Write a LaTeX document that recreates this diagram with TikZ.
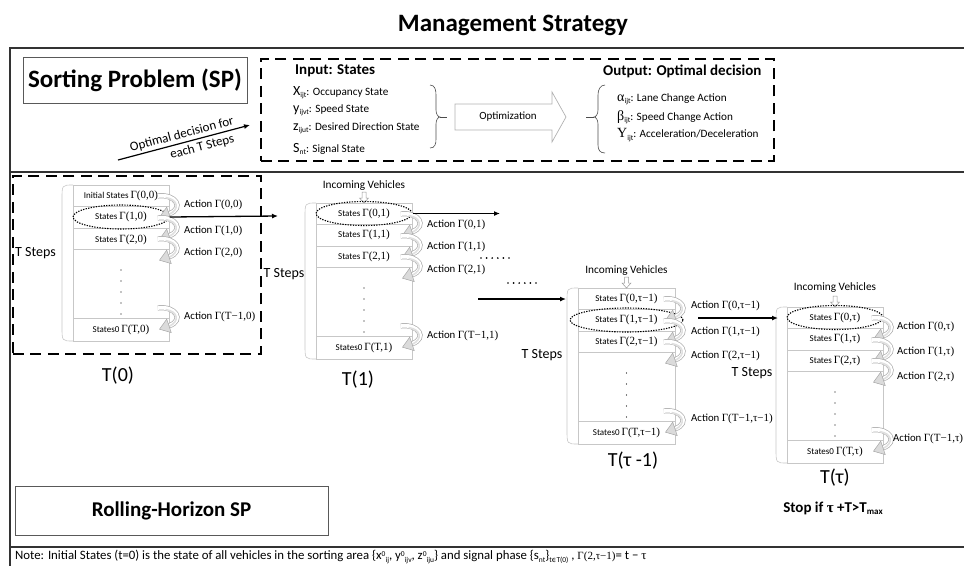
\documentclass[tikz,border=0pt]{standalone}
\usepackage{fontspec}
\setmainfont{Carlito}
\newfontfamily\tms{Liberation Serif}
\newfontfamily\dvs{DejaVu Sans}
\usetikzlibrary{arrows.meta,shapes.geometric}
\newcommand\myfs[1]{\fontsize{#1}{#1}\selectfont}
\newcommand\gam[1]{{\tms\myfs{11}Γ(#1)}}
\newcommand\sbs[1]{\raisebox{-2.2pt}{\myfs{7.5}#1}}
\newcommand\sps[1]{\raisebox{3.5pt}{\myfs{7.5}#1}}
\tikzset{
  carr/.pic={
    \begin{scope}[scale=1.12]
    \draw[line width=5.2pt, black!32] (-10,-9) .. controls (6,-11) and (14,2) .. (0,7);
    \draw[line width=3.8pt, white] (-10,-9) .. controls (6,-11) and (14,2) .. (0,7);
    \draw[line width=1.6pt, black!12] (-3,-7.5) .. controls (8,-6) and (10,3) .. (0,7.5);
    \filldraw[fill=black!14, draw=black!35, line width=0.5pt] (-2,1) -- (2,13) -- (-8.5,10) -- cycle;
    \end{scope}
  },
  inarr/.pic={
    \filldraw[fill=white, draw=black!40, line width=0.5pt] (-2,0) -- (2,0) -- (2,6) -- (4.5,6) -- (0,11) -- (-4.5,6) -- (-2,6) -- cycle;
  }
}
\begin{document}
\begin{tikzpicture}[x=1pt,y=-1pt,
  frm/.style={line width=1.1pt, draw=black!80},
  dbox/.style={draw=black, line width=1.7pt, dash pattern=on 11pt off 6.5pt, inner sep=0pt},
  gbox/.style={draw=black!65, line width=0.8pt, inner sep=0pt},
  stk/.style={draw=black!22, line width=0.6pt},
  ell/.style={ellipse, draw=black, line width=1.1pt, dash pattern=on 1.3pt off 1.3pt, inner sep=0pt},
  stt/.style={inner sep=0pt, font=\myfs{9}},
  actl/.style={anchor=west, inner sep=0pt, font=\myfs{10.8}},
  tsteps/.style={inner sep=0pt, font=\myfs{14}},
  tlab/.style={inner sep=0pt, font=\myfs{20}},
  arr/.style={draw=black, line width=1.3pt, -{Latex[length=6pt,width=5pt]}},
  inc/.style={inner sep=0pt, font=\myfs{11.3}},
  item/.style={anchor=west, inner sep=0pt},
  head/.style={anchor=west, inner sep=0pt, font=\bfseries\myfs{15}},
  brc/.style={draw=black!70, line width=0.6pt}
]
\useasboundingbox (0,0) rectangle (964,566);
% title and frame
\node[font=\bfseries\myfs{25}] (title) at (513,25) {Management Strategy};
\draw[frm] (964,48) -- (10,48) -- (10,566);
\draw[frm] (10,172) -- (964,172);
\draw[frm] (10,547) -- (964,547);
% top section
\node[gbox, minimum width=224pt, minimum height=46pt, font=\bfseries\myfs{25}] (sp) at (135,80) {Sorting Problem (SP)};
\node[dbox, minimum width=513pt, minimum height=102pt, anchor=north west] (ibox) at (260,58) {};
\coordinate (oa) at (118,160);
\coordinate (ob) at (250,125);
\draw[arr, line width=1.2pt] (oa) -- (ob)
  node[midway, sloped, above=2pt, font=\myfs{13}, inner sep=0pt] (odt) {Optimal decision for}
  node[pos=0.62, sloped, below=3pt, font=\myfs{13}, inner sep=0pt] (odb) {each T Steps};
\node[head] (inh) at (295,71) {Input: States};
\node[item] (i1) at (293,93) {{\myfs{14}X}\sbs{ijt}{\myfs{11.2}: Occupancy State}};
\node[item] (i2) at (293,110) {{\myfs{14}y}\sbs{ijvt}{\myfs{11.2}: Speed State}};
\node[item] (i3) at (293,128) {{\myfs{14}z}\sbs{ijut}{\myfs{11.2}: Desired Direction State}};
\node[item] (i4) at (293,149) {{\myfs{14}S}\sbs{nt}{\myfs{11.2}: Signal State}};
\draw[brc] (430,85) .. controls (435,85) and (436,90) .. (436,95) -- (436,110) .. controls (436,114) and (438,117) .. (440,117) .. controls (438,117) and (436,120) .. (436,124) -- (436,139) .. controls (436,144) and (435,148) .. (430,148);
\draw[brc] (440,117) -- (447,117);
\filldraw[fill=white, draw=black!30, line width=0.7pt] (455,104) -- (552,104) -- (552,92) -- (566,117) -- (552,142) -- (552,130) -- (455,130) -- cycle;
\node[font=\myfs{11}, inner sep=0pt] (opt) at (508,117) {Optimization};
\draw[brc] (605,85) .. controls (600,85) and (598,90) .. (598,95) -- (598,110) .. controls (598,114) and (596,117) .. (594,117) .. controls (596,117) and (598,120) .. (598,124) -- (598,145) .. controls (598,150) and (600,153) .. (605,153);
\draw[brc] (586,117) -- (594,117);
\node[head] (outh) at (603,71) {Output: Optimal decision};
\node[item] (o1) at (617,99) {{\tms\myfs{14}α}\sbs{ijt}{\myfs{11.2}: Lane Change Action}};
\node[item] (o2) at (617,117) {{\tms\myfs{14}β}\sbs{ijt}{\myfs{11.2}: Speed Change Action}};
\node[item] (o3) at (617,135) {{\tms\myfs{14}Υ}\sbs{ijt}{\myfs{11.2}: Acceleration/Deceleration}};
% T(0) dashed box
\node[dbox, minimum width=248pt, minimum height=178pt, anchor=north west] (tbox) at (12,175) {};
% ---------- stack 0 ----------
\node[stk, anchor=north west, minimum width=96pt, minimum height=156pt, inner sep=0pt] (k0) at (73,185) {};
\draw[stk] (73,206) -- (169,206) (73,228) -- (169,228) (73,249) -- (169,249) (73,318) -- (169,318);
\draw[stk] (73,185) .. controls (62,185) .. (62,199) -- (62,327) .. controls (62,341) .. (73,341);
\node[stt] (k0r0) at (121,195.5) {Initial States \gam{0,0}};
\node[stt] (k0r1) at (121,217) {States \gam{1,0}};
\node[ell, minimum width=96pt, minimum height=24pt] (e0) at (121,217) {};
\node[stt] (k0r2) at (121,240) {States \gam{2,0}};
\node[stt] (k0r4) at (121,330) {States0 \gam{T,0}};
\foreach \k in {0,...,4} \fill (121,270+11*\k) circle (0.6);
\pic at (169,206) {carr};
\pic at (169,228) {carr};
\pic at (169,249) {carr};
\pic at (169,318) {carr};
\node[actl] (a00) at (184,205) {Action \gam{0,0}};
\node[actl] (a01) at (184,231) {Action \gam{1,0}};
\node[actl] (a02) at (184,253) {Action \gam{2,0}};
\node[actl] (a03) at (184,317) {Action \gam{T−1,0}};
\node[tsteps, anchor=west] (ts0) at (15,253) {T Steps};
\node[tlab] (tl0) at (118,376) {T(0)};
\coordinate (c0) at (278,216);
\draw[arr] (e0.east) -- (c0);
% ---------- stack 1 ----------
\node[stk, anchor=north west, minimum width=96pt, minimum height=156pt, inner sep=0pt] (k1) at (316,203) {};
\draw[stk] (316,224) -- (412,224) (316,246) -- (412,246) (316,267) -- (412,267) (316,336) -- (412,336);
\draw[stk] (316,203) .. controls (305,203) .. (305,217) -- (305,345) .. controls (305,359) .. (316,359);
\node[inc] (in1) at (364,186) {Incoming Vehicles};
\pic at (364,192) {inarr};
\node[stt] (k1r0) at (364,213.5) {States \gam{0,1}};
\node[ell, minimum width=96pt, minimum height=24pt] (e1) at (364,213.5) {};
\node[stt] (k1r1) at (364,235) {States \gam{1,1}};
\node[stt] (k1r2) at (364,256.5) {States \gam{2,1}};
\node[stt] (k1r4) at (364,347.5) {States0 \gam{T,1}};
\foreach \k in {0,...,4} \fill (364,288+11*\k) circle (0.6);
\pic at (412,224) {carr};
\pic at (412,246) {carr};
\pic at (412,267) {carr};
\pic at (412,336) {carr};
\node[actl] (a10) at (427,225) {Action \gam{0,1}};
\node[actl] (a11) at (427,247) {Action \gam{1,1}};
\node[actl] (a12) at (427,270) {Action \gam{2,1}};
\node[actl] (a13) at (427,336) {Action \gam{T−1,1}};
\node[tsteps] (ts1) at (284,274) {T Steps};
\node[tlab] (tl1) at (358,380) {T(1)};
\coordinate (c1) at (500,213.5);
\draw[arr] (e1.east) -- (c1);
\foreach \k in {0,...,5} \fill (481+5.6*\k,258) circle (0.95);
\foreach \k in {0,...,5} \fill (508+5.6*\k,283) circle (0.95);
% ---------- stack 2 (tau-1) ----------
\node[stk, anchor=north west, minimum width=97pt, minimum height=156pt, inner sep=0pt] (k2) at (578,288) {};
\draw[stk] (578,309) -- (675,309) (578,331) -- (675,331) (578,352) -- (675,352) (578,421) -- (675,421);
\draw[stk] (578,288) .. controls (567,288) .. (567,302) -- (567,430) .. controls (567,444) .. (578,444);
\coordinate (b2) at (566,299);
\coordinate (c2in) at (478,299);
\draw[arr] (c2in) -- (b2);
\node[inc] (in2) at (626.5,271) {Incoming Vehicles};
\pic at (626.5,277) {inarr};
\node[stt] (k2r0) at (626.5,298.5) {States \gam{0,τ−1}};
\node[stt] (k2r1) at (626.5,320) {States \gam{1,τ−1}};
\node[ell, minimum width=113pt, minimum height=24pt] (e2) at (626.5,320) {};
\node[stt] (k2r2) at (626.5,341.5) {States \gam{2,τ−1}};
\node[stt] (k2r4) at (626.5,432.5) {States0 \gam{T,τ−1}};
\foreach \k in {0,...,4} \fill (626.5,373+11*\k) circle (0.6);
\pic at (675,309) {carr};
\pic at (675,331) {carr};
\pic at (675,352) {carr};
\pic at (675,421) {carr};
\node[actl] (a20) at (691,306) {Action \gam{0,τ−1}};
\node[actl] (a21) at (691,332) {Action \gam{1,τ−1}};
\node[actl] (a22) at (691,356) {Action \gam{2,τ−1}};
\node[actl] (a23) at (691,419) {Action \gam{T−1,τ−1}};
\node[tsteps] (ts2) at (542,355) {T Steps};
\node[tlab] (tl2) at (633,461) {T(τ -1)};
\coordinate (c2out) at (698,318);
% ---------- stack 3 (tau) ----------
\node[stk, anchor=north west, minimum width=96pt, minimum height=156pt, inner sep=0pt] (k3) at (787,307) {};
\draw[stk] (787,328) -- (883,328) (787,350) -- (883,350) (787,371) -- (883,371) (787,440) -- (883,440);
\draw[stk] (787,307) .. controls (776,307) .. (776,321) -- (776,449) .. controls (776,463) .. (787,463);
\coordinate (b3) at (778,318);
\draw[arr] (c2out) -- (b3);
\node[inc] (in3) at (835,288) {Incoming Vehicles};
\pic at (835,296) {inarr};
\node[stt] (k3r0) at (835,317.5) {States \gam{0,τ}};
\node[ell, minimum width=96pt, minimum height=24pt] (e3) at (835,317.5) {};
\node[stt] (k3r1) at (835,339) {States \gam{1,τ}};
\node[stt] (k3r2) at (835,360.5) {States \gam{2,τ}};
\node[stt] (k3r4) at (835,451.5) {States0 \gam{T,τ}};
\foreach \k in {0,...,4} \fill (835,392+11*\k) circle (0.6);
\pic at (883,328) {carr};
\pic at (883,350) {carr};
\pic at (883,371) {carr};
\pic at (883,440) {carr};
\node[actl] (a30) at (897,327) {Action \gam{0,τ}};
\node[actl] (a31) at (897,352) {Action \gam{1,τ}};
\node[actl] (a32) at (897,377) {Action \gam{2,τ}};
\node[actl] (a33) at (893,439) {Action \gam{T−1,τ}};
\node[tsteps] (ts3) at (752,373) {T Steps};
\node[tlab] (tl3) at (835,478) {T(τ)};
\node[font=\bfseries\myfs{15}, inner sep=0pt] (stop) at (833,508) {Stop if {\tms τ} +T>T\sbs{\bfseries\myfs{9}max}};
% bottom
\node[gbox, minimum width=313pt, minimum height=49pt, font=\bfseries\myfs{21}] (rh) at (171.5,510.5) {Rolling-Horizon SP};
\node[anchor=west, inner sep=0pt, font=\myfs{12.8}] (note) at (15,557) {Note: Initial States (t=0) is the state of all vehicles in the sorting area \{x\sps{0}\sbs{ij}, y\sps{0}\sbs{ijv}, z\sps{0}\sbs{iju}\} and signal phase \{s\sbs{nt}\}\sbs{t{\dvs ϵ}T(0)} , \gam{2,τ−1}= t − {\tms τ}};
\end{tikzpicture}
\end{document}
